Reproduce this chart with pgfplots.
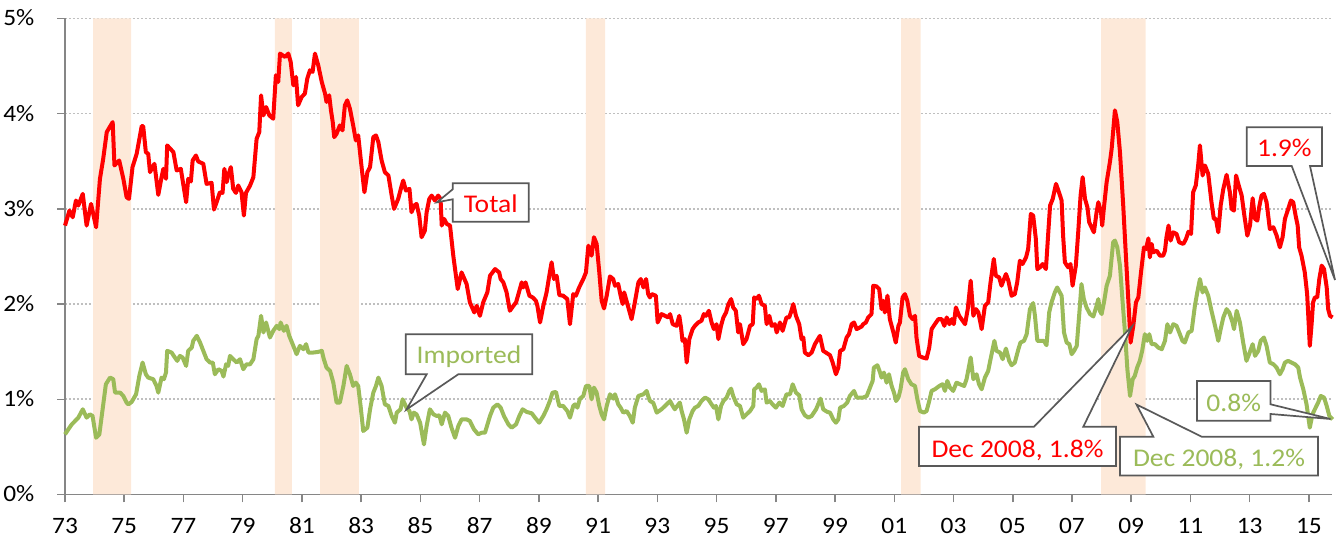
\documentclass[border=0pt]{standalone}
\usepackage{fontspec}
\setmainfont{Carlito}[FakeStretch=1.08]
\usepackage{pgfplots}
\pgfplotsset{compat=1.18}
\definecolor{recess}{RGB}{253,233,217}
\definecolor{totred}{RGB}{255,0,0}
\definecolor{impgreen}{RGB}{155,187,89}
\definecolor{axgray}{RGB}{134,134,134}
\definecolor{boxgray}{RGB}{89,89,89}
\begin{document}
\begin{tikzpicture}
\begin{scope}[x=1pt,y=-1pt,shift={(-65pt,494.5pt)}]
\path[use as bounding box] (0,0) rectangle (1343,540);
\end{scope}
\begin{axis}[
  at={(0pt,0pt)}, anchor=south west,
  scale only axis, width=1267pt, height=476pt,
  xmin=1973, xmax=2015.78, ymin=0, ymax=5,
  axis x line*=bottom, axis y line*=left,
  axis line style={draw=axgray, line width=1.5pt},
  xtick={1973,1975,...,2015},
  xticklabels={73,75,77,79,81,83,85,87,89,91,93,95,97,99,01,03,05,07,09,11,13,15},
  ytick={0,1,2,3,4,5},
  yticklabels={0\%,1\%,2\%,3\%,4\%,5\%},
  tick align=outside, major tick length=8pt,
  tick style={draw=axgray, line width=1.5pt},
  tick label style={font=\fontsize{23.5}{28}\selectfont, text=black, inner sep=0pt},
  xticklabel style={anchor=base, yshift=-30.6pt},
  yticklabel style={anchor=base east, xshift=-22.5pt, yshift=-7.4pt},
  ymajorgrids, xmajorgrids=false,
  major grid style={draw=gray!50, line width=1.6pt, dash pattern=on 1.6pt off 2.4pt},
  clip=false,
  line join=round,
]
% recession bands
\addplot[draw=none, fill=recess] coordinates {(1973.95,0)(1973.95,5)(1975.23,5)(1975.23,0)} \closedcycle;
\addplot[draw=none, fill=recess] coordinates {(1980.09,0)(1980.09,5)(1980.66,5)(1980.66,0)} \closedcycle;
\addplot[draw=none, fill=recess] coordinates {(1981.61,0)(1981.61,5)(1982.92,5)(1982.92,0)} \closedcycle;
\addplot[draw=none, fill=recess] coordinates {(1990.59,0)(1990.59,5)(1991.24,5)(1991.24,0)} \closedcycle;
\addplot[draw=none, fill=recess] coordinates {(2001.23,0)(2001.23,5)(2001.89,5)(2001.89,0)} \closedcycle;
\addplot[draw=none, fill=recess] coordinates {(2007.98,0)(2007.98,5)(2009.49,5)(2009.49,0)} \closedcycle;
% Imported
\addplot[impgreen, line width=4pt, line join=round] coordinates {
(1973.00,0.632)(1973.11,0.684)(1973.23,0.737)(1973.34,0.772)(1973.45,0.807)(1973.60,0.895)(1973.73,0.807)(1973.84,0.842)(1973.93,0.825)(1974.05,0.596)(1974.16,0.632)(1974.27,0.895)(1974.38,1.158)(1974.52,1.228)(1974.63,1.211)(1974.69,1.070)(1974.86,1.070)(1974.97,1.035)(1975.08,0.965)(1975.14,0.947)(1975.25,0.972)(1975.40,1.053)(1975.51,1.246)(1975.62,1.386)(1975.73,1.263)(1975.81,1.228)(1975.98,1.211)(1976.09,1.140)(1976.15,1.070)(1976.26,1.228)(1976.34,1.211)(1976.41,1.281)(1976.45,1.509)(1976.60,1.491)(1976.71,1.439)(1976.79,1.404)(1976.88,1.456)(1976.97,1.439)(1977.09,1.351)(1977.16,1.509)(1977.28,1.544)(1977.33,1.614)(1977.45,1.667)(1977.56,1.596)(1977.67,1.509)(1977.78,1.421)(1977.90,1.386)(1977.99,1.386)(1978.06,1.263)(1978.18,1.316)(1978.29,1.298)(1978.35,1.239)(1978.44,1.368)(1978.51,1.351)(1978.57,1.456)(1978.68,1.421)(1978.80,1.386)(1978.91,1.421)(1979.02,1.316)(1979.13,1.368)(1979.25,1.368)(1979.36,1.421)(1979.47,1.632)(1979.53,1.667)(1979.62,1.877)(1979.70,1.702)(1979.79,1.807)(1979.92,1.649)
(1980.03,1.719)(1980.15,1.772)(1980.24,1.737)(1980.28,1.807)(1980.39,1.719)(1980.48,1.772)(1980.57,1.667)(1980.71,1.561)(1980.82,1.474)(1980.93,1.561)(1981.05,1.526)(1981.14,1.579)(1981.22,1.491)(1981.38,1.491)(1981.55,1.498)(1981.67,1.509)(1981.74,1.421)(1981.83,1.333)(1981.95,1.298)(1982.06,1.175)(1982.17,0.965)(1982.28,0.965)(1982.40,1.140)(1982.51,1.351)(1982.62,1.263)(1982.73,1.140)(1982.82,1.175)(1982.90,1.140)(1982.98,0.930)(1983.07,0.667)(1983.21,0.702)(1983.30,0.895)(1983.41,1.070)(1983.50,1.140)(1983.58,1.228)(1983.69,1.140)(1983.80,0.947)(1983.92,0.930)(1984.03,0.825)(1984.14,0.754)(1984.20,0.860)(1984.33,0.895)(1984.40,1.000)(1984.53,0.912)(1984.63,0.877)(1984.70,0.789)(1984.78,0.860)(1984.87,0.842)(1984.99,0.754)(1985.12,0.526)(1985.21,0.719)(1985.32,0.895)(1985.44,0.842)(1985.55,0.825)(1985.64,0.832)(1985.72,0.737)(1985.83,0.860)(1985.94,0.825)(1986.05,0.702)(1986.17,0.596)(1986.28,0.719)(1986.39,0.789)(1986.56,0.789)(1986.67,0.772)(1986.81,0.684)(1986.95,0.632)(1987.07,0.649)
(1987.18,0.649)(1987.35,0.825)(1987.46,0.912)(1987.60,0.947)(1987.71,0.912)(1987.82,0.825)(1987.97,0.737)(1988.08,0.702)(1988.23,0.737)(1988.34,0.825)(1988.45,0.895)(1988.59,0.867)(1988.76,0.853)(1988.87,0.807)(1989.01,0.754)(1989.15,0.825)(1989.26,0.895)(1989.37,0.982)(1989.46,1.070)(1989.58,1.077)(1989.62,1.018)(1989.69,0.930)(1989.82,0.930)(1989.96,0.877)(1990.05,0.807)(1990.16,0.930)(1990.22,0.947)(1990.30,0.912)(1990.39,1.007)(1990.50,1.035)(1990.59,1.140)(1990.70,1.140)(1990.78,1.000)(1990.86,1.123)(1990.95,1.070)(1991.04,0.930)(1991.12,0.842)(1991.20,0.789)(1991.29,0.930)(1991.40,1.053)(1991.51,1.007)(1991.57,1.053)(1991.68,0.947)(1991.76,0.912)(1991.85,0.860)(1991.96,0.877)(1992.07,0.825)(1992.17,0.754)(1992.24,0.912)(1992.36,1.035)(1992.53,1.053)(1992.64,1.088)(1992.69,1.035)(1992.75,0.982)(1992.86,0.965)(1992.98,0.860)(1993.14,0.895)(1993.26,0.930)(1993.43,0.982)(1993.52,0.930)(1993.59,0.895)(1993.67,0.930)(1993.76,0.965)(1993.82,0.877)(1993.90,0.789)(1993.99,0.649)(1994.08,0.789)(1994.19,0.877)
(1994.27,0.912)(1994.38,0.930)(1994.49,0.982)(1994.61,1.018)(1994.72,1.000)(1994.83,0.947)(1994.91,0.912)(1994.98,0.930)(1995.06,0.789)(1995.15,0.930)(1995.23,0.982)(1995.34,1.018)(1995.43,1.088)(1995.49,1.112)(1995.56,1.035)(1995.68,0.947)(1995.79,0.930)(1995.90,0.807)(1996.01,0.842)(1996.13,0.877)(1996.24,0.930)(1996.27,1.105)(1996.35,1.123)(1996.43,1.158)(1996.52,1.088)(1996.63,1.105)(1996.69,0.965)(1996.80,0.982)(1996.89,0.947)(1997.00,0.912)(1997.12,0.965)(1997.23,0.930)(1997.36,1.053)(1997.48,1.053)(1997.57,1.158)(1997.68,1.070)(1997.79,1.042)(1997.87,0.895)(1997.98,0.832)(1998.10,0.807)(1998.21,0.825)(1998.36,0.895)(1998.51,1.007)(1998.60,0.895)(1998.74,0.867)(1998.83,0.860)(1998.94,0.789)(1999.03,0.754)(1999.11,0.789)(1999.17,0.912)(1999.30,0.930)(1999.41,0.965)(1999.50,1.035)(1999.64,1.088)(1999.73,1.018)(1999.84,1.018)(1999.95,1.018)(2000.07,1.035)(2000.18,1.123)(2000.27,1.193)(2000.31,1.333)(2000.43,1.358)(2000.52,1.281)(2000.57,1.228)(2000.65,1.281)(2000.74,1.175)(2000.82,1.263)(2000.91,1.140)(2000.99,1.070)(2001.06,0.982)(2001.14,1.018)(2001.21,1.105)(2001.30,1.281)(2001.36,1.316)
(2001.47,1.211)(2001.58,1.158)(2001.70,1.140)(2001.78,1.000)(2001.87,0.877)(2002.00,0.860)(2002.09,0.877)(2002.18,0.982)(2002.26,1.088)(2002.37,1.105)(2002.52,1.140)(2002.63,1.158)(2002.71,1.088)(2002.79,1.193)(2002.88,1.123)(2002.99,1.088)(2003.10,1.175)(2003.22,1.158)(2003.36,1.140)(2003.44,1.211)(2003.58,1.439)(2003.67,1.211)(2003.78,1.263)(2003.86,1.158)(2003.95,1.105)(2004.06,1.228)(2004.17,1.298)(2004.25,1.421)(2004.38,1.614)(2004.45,1.509)(2004.57,1.491)(2004.66,1.421)(2004.77,1.533)(2004.88,1.404)(2004.96,1.358)(2005.07,1.386)(2005.19,1.526)(2005.26,1.596)(2005.38,1.614)(2005.47,1.684)(2005.58,1.947)(2005.69,2.011)(2005.75,1.877)(2005.83,1.614)(2005.97,1.614)(2006.05,1.614)(2006.14,1.568)(2006.23,1.912)(2006.31,2.018)(2006.42,2.123)(2006.50,2.175)(2006.65,2.088)(2006.73,1.702)(2006.82,1.596)(2006.91,1.579)(2006.99,1.474)(2007.07,1.509)(2007.16,1.561)(2007.25,1.912)(2007.32,2.211)(2007.40,2.053)(2007.49,1.965)(2007.61,1.895)(2007.72,1.870)(2007.83,1.982)(2007.89,2.053)(2007.94,1.930)(2008.00,1.895)(2008.08,2.018)(2008.17,2.193)(2008.28,2.298)(2008.39,2.649)
(2008.45,2.667)(2008.53,2.596)(2008.62,2.404)(2008.71,2.018)(2008.79,1.702)(2008.87,1.316)(2008.96,1.035)(2009.05,1.211)(2009.12,1.246)(2009.20,1.333)(2009.29,1.404)(2009.37,1.509)(2009.46,1.684)(2009.54,1.614)(2009.61,1.684)(2009.69,1.579)(2009.80,1.579)(2009.91,1.544)(2010.03,1.526)(2010.14,1.614)(2010.22,1.789)(2010.31,1.702)(2010.42,1.789)(2010.53,1.772)(2010.62,1.702)(2010.73,1.614)(2010.81,1.596)(2010.93,1.702)(2011.04,1.719)(2011.15,1.982)(2011.23,2.123)(2011.32,2.263)(2011.41,2.123)(2011.49,2.175)(2011.60,2.088)(2011.71,1.930)(2011.83,1.772)(2011.94,1.614)(2012.02,1.737)(2012.11,1.860)(2012.22,1.947)(2012.31,1.912)(2012.42,1.807)(2012.47,1.737)(2012.56,1.930)(2012.67,1.807)(2012.78,1.596)(2012.89,1.404)(2012.98,1.474)(2013.10,1.579)(2013.18,1.456)(2013.29,1.509)(2013.37,1.614)(2013.48,1.649)(2013.57,1.561)(2013.68,1.386)(2013.80,1.368)(2013.91,1.333)(2014.02,1.263)(2014.11,1.316)(2014.19,1.386)(2014.30,1.404)(2014.41,1.386)(2014.53,1.368)(2014.64,1.333)(2014.70,1.228)(2014.81,1.105)(2014.92,0.947)(2015.03,0.702)(2015.12,0.842)(2015.20,0.895)(2015.31,0.965)(2015.40,1.035)(2015.51,1.018)(2015.60,0.930)(2015.69,0.825)(2015.80,0.789)
};
% Total
\addplot[totred, line width=4pt, line join=round] coordinates {
(1973.00,2.825)(1973.15,2.982)(1973.26,2.912)(1973.37,3.088)(1973.45,3.035)(1973.60,3.158)(1973.73,2.825)(1973.88,3.053)(1974.05,2.807)(1974.18,3.316)(1974.29,3.526)(1974.41,3.807)(1974.61,3.912)(1974.67,3.456)(1974.83,3.509)(1974.97,3.316)(1975.08,3.123)(1975.16,3.105)(1975.28,3.439)(1975.42,3.579)(1975.59,3.870)(1975.64,3.870)(1975.73,3.596)(1975.81,3.579)(1975.87,3.386)(1976.02,3.474)(1976.15,3.147)(1976.26,3.333)(1976.32,3.421)(1976.41,3.316)(1976.45,3.667)(1976.66,3.596)(1976.77,3.404)(1976.91,3.421)(1977.09,3.070)(1977.16,3.316)(1977.25,3.288)(1977.31,3.509)(1977.42,3.561)(1977.50,3.498)(1977.67,3.474)(1977.78,3.263)(1977.95,3.274)(1978.03,2.993)(1978.12,3.070)(1978.23,3.175)(1978.32,3.168)(1978.38,3.421)(1978.46,3.281)(1978.51,3.351)(1978.60,3.439)(1978.68,3.211)(1978.77,3.168)(1978.85,3.246)(1978.96,3.175)(1979.04,2.930)(1979.11,3.168)(1979.25,3.246)(1979.36,3.333)(1979.47,3.737)(1979.56,3.807)(1979.62,4.193)(1979.70,3.982)(1979.79,4.070)(1979.90,3.982)(1980.03,3.947)
(1980.12,4.404)(1980.20,4.333)(1980.26,4.632)(1980.43,4.596)(1980.54,4.632)(1980.62,4.544)(1980.71,4.298)(1980.80,4.386)(1980.87,4.088)(1980.99,4.175)(1981.10,4.211)(1981.18,4.368)(1981.27,4.456)(1981.36,4.439)(1981.44,4.632)(1981.55,4.509)(1981.67,4.333)(1981.78,4.211)(1981.83,4.123)(1981.92,4.193)(1981.98,4.035)(1982.04,3.912)(1982.09,3.754)(1982.17,3.789)(1982.28,3.877)(1982.37,3.825)(1982.45,4.088)(1982.53,4.140)(1982.62,4.053)(1982.73,3.877)(1982.82,3.719)(1982.90,3.772)(1983.02,3.421)(1983.11,3.175)(1983.21,3.386)(1983.30,3.439)(1983.41,3.754)(1983.50,3.772)(1983.58,3.702)(1983.69,3.509)(1983.80,3.386)(1983.92,3.351)(1984.03,3.140)(1984.11,3.000)(1984.25,3.105)(1984.37,3.246)(1984.42,3.298)(1984.51,3.193)(1984.63,3.211)(1984.70,2.965)(1984.79,3.035)(1984.87,3.053)(1984.96,2.930)(1985.04,2.702)(1985.15,2.772)(1985.21,2.965)(1985.30,3.105)(1985.38,3.140)(1985.49,3.088)(1985.60,3.140)(1985.68,3.105)(1985.72,2.825)(1985.80,2.895)(1985.89,2.842)(1986.00,2.825)(1986.11,2.509)(1986.26,2.158)(1986.39,2.333)(1986.56,2.211)(1986.67,2.018)(1986.82,1.912)(1986.90,1.982)(1987.01,1.877)
(1987.12,2.018)(1987.26,2.123)(1987.35,2.298)(1987.52,2.368)(1987.66,2.333)(1987.71,2.263)(1987.80,2.228)(1987.91,2.123)(1988.02,1.930)(1988.14,1.982)(1988.23,2.018)(1988.31,2.105)(1988.42,2.228)(1988.47,2.175)(1988.55,2.228)(1988.68,2.088)(1988.79,2.070)(1988.90,2.035)(1988.95,1.982)(1989.04,1.807)(1989.15,1.982)(1989.26,2.123)(1989.37,2.333)(1989.43,2.439)(1989.51,2.263)(1989.60,2.298)(1989.69,2.095)(1989.82,2.088)(1989.96,2.053)(1990.05,1.789)(1990.16,2.105)(1990.25,2.088)(1990.36,2.175)(1990.50,2.263)(1990.59,2.333)(1990.67,2.614)(1990.78,2.509)(1990.86,2.702)(1990.95,2.632)(1991.04,2.333)(1991.12,2.035)(1991.20,1.954)(1991.29,2.088)(1991.40,2.291)(1991.51,2.263)(1991.57,2.193)(1991.68,2.211)(1991.76,2.088)(1991.83,2.000)(1991.88,2.123)(1991.99,2.000)(1992.13,1.842)(1992.24,2.018)(1992.36,2.228)(1992.44,2.263)(1992.53,2.175)(1992.62,2.263)(1992.69,2.105)(1992.75,2.070)(1992.81,2.105)(1992.95,2.088)(1993.01,1.807)(1993.14,1.895)(1993.26,1.877)(1993.37,1.860)(1993.43,1.895)(1993.52,1.789)(1993.65,1.772)(1993.74,1.877)(1993.80,1.754)(1993.85,1.614)(1993.93,1.632)(1993.99,1.386)(1994.08,1.632)(1994.19,1.737)(1994.27,1.772)
(1994.38,1.807)(1994.49,1.825)(1994.57,1.895)(1994.64,1.877)(1994.74,1.930)(1994.83,1.807)(1994.91,1.737)(1995.00,1.789)(1995.06,1.632)(1995.15,1.772)(1995.23,1.860)(1995.32,1.912)(1995.40,2.000)(1995.49,2.053)(1995.56,1.965)(1995.65,1.930)(1995.73,1.702)(1995.79,1.789)(1995.90,1.579)(1996.01,1.632)(1996.13,1.772)(1996.22,1.789)(1996.27,2.070)(1996.35,2.053)(1996.43,2.088)(1996.52,2.000)(1996.63,1.982)(1996.69,1.789)(1996.78,1.877)(1996.86,1.772)(1996.97,1.789)(1997.03,1.702)(1997.14,1.807)(1997.23,1.719)(1997.31,1.807)(1997.36,1.860)(1997.45,1.860)(1997.51,1.912)(1997.59,2.000)(1997.68,1.877)(1997.79,1.789)(1997.87,1.632)(1997.93,1.649)(1997.98,1.491)(1998.10,1.463)(1998.21,1.491)(1998.32,1.579)(1998.49,1.667)(1998.60,1.509)(1998.69,1.491)(1998.83,1.463)(1998.92,1.386)(1999.03,1.263)(1999.11,1.333)(1999.17,1.509)(1999.28,1.526)(1999.39,1.649)(1999.47,1.684)(1999.56,1.789)(1999.64,1.807)(1999.73,1.737)(1999.90,1.765)(1999.95,1.789)(2000.04,1.807)(2000.12,1.860)(2000.23,1.895)(2000.29,2.193)(2000.40,2.186)(2000.49,2.158)(2000.57,1.947)(2000.63,2.035)(2000.68,1.912)(2000.77,2.088)(2000.85,1.842)(2000.97,1.702)(2001.05,1.596)(2001.14,1.772)(2001.19,1.807)(2001.28,2.070)(2001.36,2.105)
(2001.44,2.035)(2001.53,1.877)(2001.62,1.842)(2001.70,1.877)(2001.75,1.649)(2001.84,1.456)(2001.96,1.439)(2002.09,1.428)(2002.18,1.544)(2002.26,1.737)(2002.37,1.789)(2002.49,1.842)(2002.60,1.842)(2002.69,1.772)(2002.77,1.860)(2002.86,1.789)(2002.94,1.842)(2003.01,1.789)(2003.08,1.965)(2003.19,1.877)(2003.27,1.842)(2003.39,1.789)(2003.48,1.947)(2003.58,2.246)(2003.67,1.877)(2003.76,1.947)(2003.84,1.912)(2003.95,1.737)(2004.06,1.982)(2004.17,2.018)(2004.25,2.228)(2004.36,2.474)(2004.43,2.298)(2004.54,2.281)(2004.62,2.193)(2004.77,2.316)(2004.85,2.246)(2004.96,2.088)(2005.07,2.105)(2005.15,2.228)(2005.24,2.456)(2005.33,2.421)(2005.45,2.491)(2005.52,2.579)(2005.61,2.947)(2005.69,2.930)(2005.78,2.684)(2005.83,2.368)(2005.92,2.386)(2006.01,2.421)(2006.12,2.368)(2006.20,2.754)(2006.26,3.035)(2006.35,3.105)(2006.46,3.263)(2006.54,3.193)(2006.65,3.088)(2006.70,2.719)(2006.76,2.439)(2006.87,2.386)(2006.95,2.421)(2007.02,2.193)(2007.13,2.404)(2007.21,2.754)(2007.29,3.140)(2007.36,3.333)(2007.44,3.105)(2007.52,3.018)(2007.58,2.860)(2007.66,2.807)(2007.74,2.754)(2007.83,2.965)(2007.89,3.070)(2007.98,2.965)(2008.02,2.825)(2008.08,3.018)(2008.17,3.281)(2008.28,3.491)(2008.34,3.632)
(2008.45,4.035)(2008.53,3.912)(2008.62,3.596)(2008.73,3.035)(2008.82,2.509)(2008.90,2.053)(2008.98,1.596)(2009.07,1.772)(2009.16,2.018)(2009.24,2.070)(2009.33,2.333)(2009.43,2.596)(2009.50,2.579)(2009.58,2.691)(2009.63,2.491)(2009.69,2.632)(2009.74,2.544)(2009.86,2.561)(2009.97,2.509)(2010.08,2.509)(2010.14,2.561)(2010.19,2.702)(2010.26,2.825)(2010.33,2.667)(2010.42,2.754)(2010.53,2.737)(2010.62,2.649)(2010.76,2.632)(2010.85,2.684)(2010.93,2.761)(2011.02,2.737)(2011.09,3.175)(2011.18,3.246)(2011.26,3.456)(2011.32,3.667)(2011.41,3.351)(2011.49,3.456)(2011.60,3.368)(2011.71,3.070)(2011.79,2.895)(2011.86,2.895)(2011.94,2.754)(2012.02,3.035)(2012.11,3.211)(2012.22,3.358)(2012.33,3.175)(2012.39,3.000)(2012.47,2.982)(2012.54,3.351)(2012.63,3.246)(2012.73,3.140)(2012.82,2.930)(2012.92,2.719)(2013.01,2.825)(2013.10,3.112)(2013.18,2.895)(2013.26,2.877)(2013.32,3.018)(2013.40,3.140)(2013.48,3.158)(2013.57,3.070)(2013.68,2.789)(2013.80,2.807)(2013.91,2.719)(2014.02,2.596)(2014.11,2.702)(2014.19,2.895)(2014.30,3.000)(2014.39,3.088)(2014.47,3.070)(2014.55,2.930)(2014.62,2.825)(2014.67,2.596)(2014.75,2.509)(2014.86,2.333)(2014.94,2.105)(2015.03,1.561)(2015.09,1.789)(2015.14,2.018)(2015.20,2.070)(2015.28,2.070)(2015.35,2.263)(2015.43,2.404)(2015.51,2.368)(2015.60,2.175)(2015.65,1.947)(2015.71,1.877)(2015.80,1.860)
};
\end{axis}
% callouts, in pixel units of the reference (y downwards)
\begin{scope}[x=1pt,y=-1pt,shift={(-65pt,494.5pt)}, font=\fontsize{25.5}{30}\selectfont]
\tikzset{callout/.style={fill=white, draw=boxgray, line width=1.7pt, line join=miter}}
\path[callout] (452.7,183.3) -- (528.7,183.3) -- (528.7,221.7) -- (452.7,221.7) -- (452.7,199.3) -- (437,202.3) -- (452.7,189.3) -- cycle;
\node[anchor=base, text=totred, inner sep=0pt] at (490.7,212.3) {Total};
\path[callout] (405.7,334.3) -- (532.3,334.3) -- (532.3,374.3) -- (458.3,374.3) -- (406.5,409.5) -- (426.7,374.3) -- (405.7,374.3) -- cycle;
\node[anchor=base, text=impgreen, inner sep=0pt] at (469,364) {Imported};
\path[callout] (1246.7,127.3) -- (1322,127.3) -- (1322,166) -- (1310,166) -- (1335,280) -- (1291.7,166) -- (1246.7,166) -- cycle;
\node[anchor=base, text=totred, inner sep=0pt] at (1284.3,156.7) {1.9\%};
\path[callout] (919,426.7) -- (1034,426.7) -- (1132.3,326) -- (1083.3,426.7) -- (1116,426.7) -- (1116,466) -- (919,466) -- cycle;
\node[anchor=base, text=totred, inner sep=0pt] at (1017.5,457.3) {Dec 2008, 1.8\%};
\path[callout] (1120,436.7) -- (1153.3,436.7) -- (1136.5,404.5) -- (1201.7,436.7) -- (1318,436.7) -- (1318,475.5) -- (1120,475.5) -- cycle;
\node[anchor=base, text=impgreen, inner sep=0pt] at (1219,466.7) {Dec 2008, 1.2\%};
\path[callout] (1197,381) -- (1270.5,381) -- (1270.5,404.3) -- (1330.5,419) -- (1270.5,414) -- (1270.5,420.8) -- (1197,420.8) -- cycle;
\node[anchor=base, text=impgreen, inner sep=0pt] at (1233.7,411.7) {0.8\%};
\end{scope}
\end{tikzpicture}
\end{document}
